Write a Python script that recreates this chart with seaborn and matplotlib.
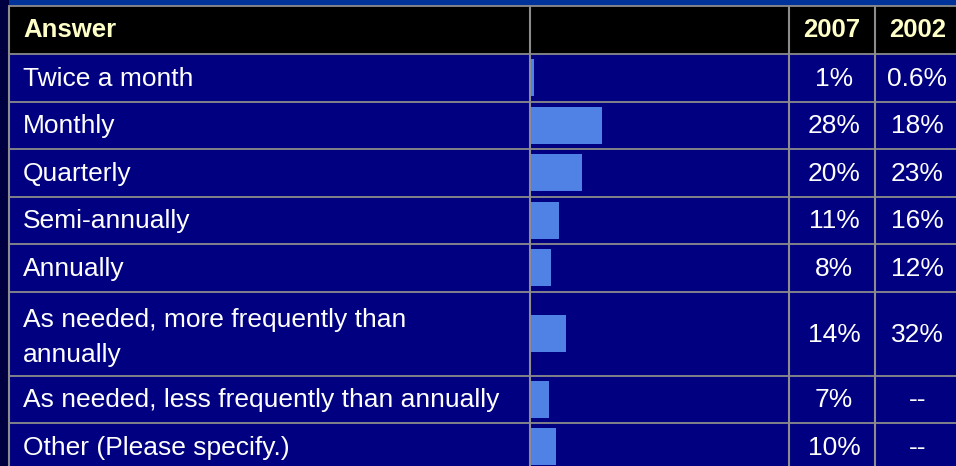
import numpy as np
import matplotlib
matplotlib.use('Agg')
import matplotlib.pyplot as plt
from matplotlib.patches import Rectangle
import seaborn as sns

sns.set_style('white')
plt.rcParams['font.family'] = ['Liberation Sans', 'DejaVu Sans']

# 数据
answers = ['Twice a month', 'Monthly', 'Quarterly', 'Semi-annually', 'Annually',
           'As needed, more frequently than\nannually',
           'As needed, less frequently than annually', 'Other (Please specify.)']
pct_2007 = [1, 28, 20, 11, 8, 14, 7, 10]
pct_2002 = [0.6, 18, 23, 16, 12, 32, None, None]
headers = ['Answer', '', '2007', '2002']

# 颜色
navy = '#000080'
bar_color = '#5082E6'
grid_color = '#8c8c8c'
head_text = '#FFFFC8'

W, H = 956, 466
fig = plt.figure(figsize=(W / 100, H / 100), dpi=100)
fig.patch.set_facecolor('#003399')

ax = fig.add_axes([0, 0, 1, 1])
ax.set_xlim(0, W)
ax.set_ylim(H, 0)
ax.axis('off')

# 表格布局（像素）
col_lines = [9, 530, 789, 875, 960]
head_top, head_h = 6, 48
row_units = [1, 1, 1, 1, 1, 1.77, 1, 1]
unit_h = 47.5
row_edges = head_top + head_h + np.concatenate([[0], np.cumsum(row_units)]) * unit_h
centers = (row_edges[:-1] + row_edges[1:]) / 2

# 背景
ax.add_patch(Rectangle((0, 0), 9, H, color='#000040', lw=0))
ax.add_patch(Rectangle((9, head_top), W, head_h, color='black', lw=0))
ax.add_patch(Rectangle((9, row_edges[0]), W, H, color=navy, lw=0))

# 网格线
for y in [head_top] + list(row_edges):
    ax.plot([9, W + 5], [y, y], color=grid_color, lw=1.3)
for x in col_lines[:-1]:
    ax.plot([x, x], [head_top, H + 5], color=grid_color, lw=1.5)

# 表头
hy = head_top + head_h / 2
ax.text(23, hy, headers[0], color=head_text, fontsize=18.5, fontweight='bold', va='center', ha='left')
ax.text((col_lines[2] + col_lines[3]) / 2, hy, headers[2], color=head_text, fontsize=18.5,
        fontweight='bold', va='center', ha='center')
ax.text((col_lines[3] + 960) / 2, hy, headers[3], color=head_text, fontsize=18.5,
        fontweight='bold', va='center', ha='center')

# 行文字
for i, (a, v7, v2) in enumerate(zip(answers, pct_2007, pct_2002)):
    cy = centers[i]
    ty = cy + 4 if '\n' in a else cy + 1
    ax.text(23, ty, a, color='white', fontsize=19, va='center', ha='left', linespacing=1.55)
    ax.text((col_lines[2] + col_lines[3]) / 2 + 2, cy + 1, f'{v7:g}%', color='white',
            fontsize=19, va='center', ha='center')
    lab2 = f'{v2:g}%' if v2 is not None else '--'
    ax.text((col_lines[3] + 960) / 2, cy + 1, lab2, color='white', fontsize=19,
            va='center', ha='center')

# 柱状图（2007）
x0, bw = 531, 253
bax = fig.add_axes([x0 / W, 0, bw / W, 1])
bax.patch.set_alpha(0)
sns.barplot(x=pct_2007, y=centers, orient='y', native_scale=True, width=0.78,
            color=bar_color, saturation=1, errorbar=None, linewidth=0, ax=bax)
bax.set_xlim(0, 100)
bax.set_ylim(H, 0)
bax.axis('off')

fig.savefig('out.png', dpi=100, facecolor=fig.get_facecolor())
